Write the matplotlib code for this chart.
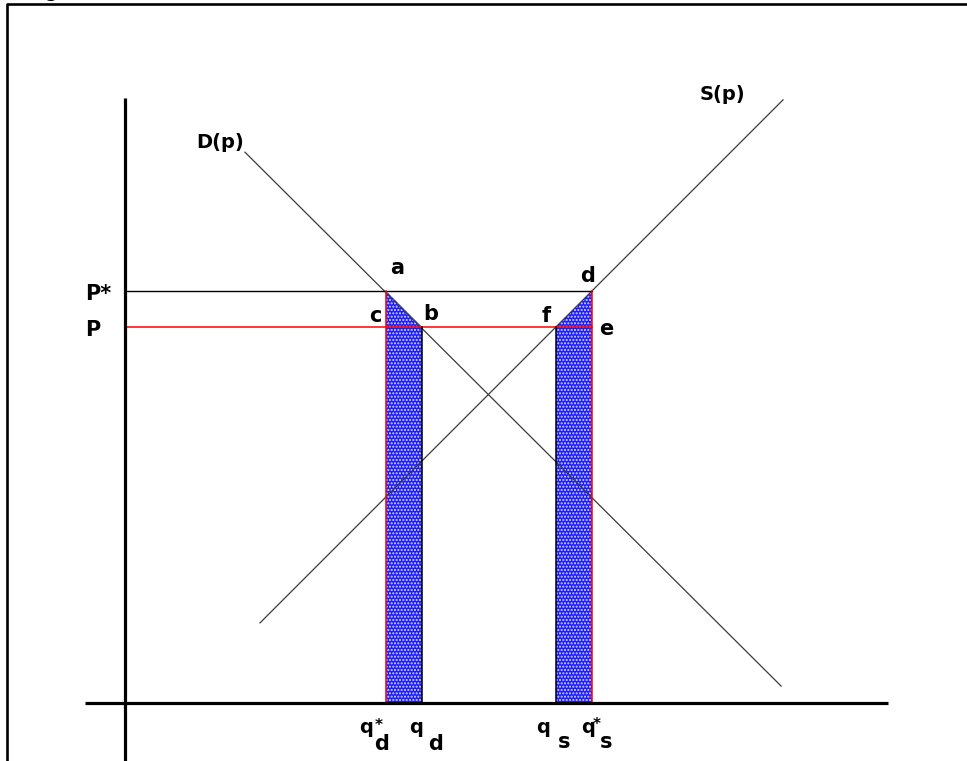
import matplotlib
matplotlib.use('Agg')
import matplotlib.pyplot as plt
from matplotlib.lines import Line2D

plt.rcParams['font.family'] = ['DejaVu Sans']
plt.rcParams['hatch.linewidth'] = 1.0

# prices
p_star = 10.96
p_low = 10.0
# quantities
q_d_star = 6.94
q_d = 7.90
q_s = 11.46
q_s_star = 12.42

# demand / supply lines (end points)
demand_q = [3.19, 17.45]
demand_p = [14.65, 0.45]
supply_q = [3.59, 17.50]
supply_p = [2.13, 16.04]

# axis extents
q_axis = [-1.06, 20.30]
p_axis = [-1.70, 16.09]

# pixel layout of the figure
W, H = 967, 761
ox, oy, k = 125, 703, 37.6

fig = plt.figure(figsize=(W / 100, H / 100), dpi=100)
ax = fig.add_axes([0, 0, 1, 1])
ax.set_xlim(-ox / k, (W - ox) / k)
ax.set_ylim((oy - H) / k, oy / k)
ax.axis('off')

# frame round the picture (cut off at right and bottom)
fig.add_artist(Line2D([7 / W, 7 / W, 1.0], [0.0, 1 - 4 / H, 1 - 4 / H],
                      transform=fig.transFigure, color='black', lw=1.9))
fig.text(27 / W, 1 + 3 / H, 'Figure', fontsize=13, fontweight='bold',
         va='baseline', ha='left')

# shaded areas
left_area = [(q_d_star, p_star), (q_d, p_low), (q_d, 0), (q_d_star, 0)]
right_area = [(q_s_star, p_star), (q_s_star, 0), (q_s, 0), (q_s, p_low)]
for poly in (left_area, right_area):
    xs, ys = zip(*poly)
    ax.fill(xs, ys, facecolor='#1c1cff', edgecolor='#d8d8ff', hatch='.....',
            linewidth=0, zorder=2)

# demand and supply
ax.plot(demand_q, demand_p, color='#3a3a3a', lw=0.9, zorder=3)
ax.plot(supply_q, supply_p, color='#3a3a3a', lw=0.9, zorder=3)

# price lines
ax.plot([0, q_s_star], [p_star, p_star], color='black', lw=1.0, zorder=4)
ax.plot([0, q_s_star], [p_low, p_low], color='#ff0000', lw=1.1, zorder=4)

# verticals
ax.plot([q_d_star, q_d_star], [0, p_star], color='#ff0000', lw=1.1, zorder=4)
ax.plot([q_s_star, q_s_star], [0, p_star], color='#ff0000', lw=1.1, zorder=4)
ax.plot([q_d, q_d], [0, p_low], color='black', lw=1.1, zorder=4)
ax.plot([q_s, q_s], [0, p_low], color='black', lw=1.1, zorder=4)

# axes
ax.plot(q_axis, [0, 0], color='black', lw=2.3, zorder=5, solid_capstyle='butt')
ax.plot([0, 0], p_axis, color='black', lw=2.3, zorder=5, solid_capstyle='butt')

lab = dict(fontweight='bold', va='baseline', zorder=6,
           textcoords='offset pixels')

def put(txt, xy, dx, dy, ha='center', size=14):
    ax.annotate(txt, xy=xy, xytext=(dx, dy), ha=ha, fontsize=size, **lab)

# curve labels
put('D(p)', (demand_q[0], demand_p[0]), -49, 4, ha='left')
put('S(p)', (supply_q[1], supply_p[1]), -83, 0, ha='left')

# point labels
put('a', (q_d_star, p_star), 11, 17, size=15)
put('d', (q_s_star, p_star), -4, 9, size=15)
put('c', (q_d_star, p_low), -11, 5, size=15)
put('b', (q_d, p_low), 9, 7, size=15)
put('f', (q_s, p_low), -10, 5, size=15)
put('e', (q_s_star, p_low), 14, -8, size=15)

# price labels
put('P*', (0, p_star), -40, -9, ha='left', size=15)
put('P', (0, p_low), -40, -9, ha='left', size=15)

# quantity labels
put('q', (q_d_star, 0), -20, -30, size=14)
put('*', (q_d_star, 0), -7, -27, size=11)
put('d', (q_d_star, 0), -4, -47, size=15)

put('q', (q_d, 0), -6, -30, size=14)
put('d', (q_d, 0), 14, -47, size=15)

put('q', (q_s, 0), -13, -30, size=14)
put('s', (q_s, 0), 8, -45, size=15)

put('q', (q_s_star, 0), -4, -30, size=14)
put('*', (q_s_star, 0), 5, -26, size=11)
put('s', (q_s_star, 0), 14, -45, size=15)

fig.savefig('out.png', dpi=100)
